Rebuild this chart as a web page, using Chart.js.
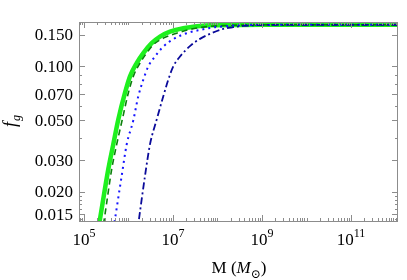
<!DOCTYPE html>
<html>
<head>
<meta charset="utf-8">
<script src="https://cdn.jsdelivr.net/npm/chart.js@4.4.1/dist/chart.umd.min.js"></script>
<style>
  html, body { margin: 0; padding: 0; background: #fff; }
  #wrap { width: 407px; height: 280px; }
</style>
</head>
<body>
<div id="wrap"><canvas id="chart" width="407" height="280"></canvas></div>
<script>
// log10 of the mass, and gas fraction
var logMassGreen  = [5.303, 5.360, 5.546, 5.658, 5.771, 5.921, 6.034, 6.184, 6.333, 6.521, 6.708, 6.933, 7.231, 7.607, 7.831, 8.5, 9.5, 10.5, 11.5, 12.1];
var fgGreen       = [0.0116, 0.01406, 0.02667, 0.03672, 0.05058, 0.07112, 0.0880, 0.1044, 0.1187, 0.1349, 0.1468, 0.1564, 0.1634, 0.1683, 0.1700, 0.1705, 0.1706, 0.1706, 0.1706, 0.1706];

var logMassDashed = [5.400, 5.456, 5.622, 5.735, 5.861, 5.996, 6.108, 6.258, 6.409, 6.557, 6.782, 7.083, 7.38, 7.72, 8.17, 8.73, 9.5, 10.5, 11.5, 12.1];
var fgDashed      = [0.0116, 0.01406, 0.02667, 0.03672, 0.05058, 0.07112, 0.0880, 0.1044, 0.1187, 0.1320, 0.1438, 0.1533, 0.1609, 0.1663, 0.1691, 0.1704, 0.1706, 0.1706, 0.1706, 0.1706];

var logMassDotted = [5.645, 5.697, 5.847, 5.960, 6.108, 6.220, 6.333, 6.445, 6.596, 6.782, 7.045, 7.308, 7.607, 7.944, 8.207, 8.506, 8.955, 9.6, 10.5, 11.5, 12.1];
var fgDotted      = [0.0116, 0.01406, 0.02449, 0.03672, 0.0500, 0.0681, 0.0843, 0.100, 0.1136, 0.1291, 0.1438, 0.1533, 0.1599, 0.1656, 0.1677, 0.1698, 0.1704, 0.1706, 0.1706, 0.1706, 0.1706];

var logMassDashDot = [6.191, 6.236, 6.371, 6.483, 6.634, 6.782, 6.894, 7.007, 7.157, 7.40, 7.607, 7.831, 8.130, 8.355, 8.580, 8.955, 9.40, 10.0, 11.0, 12.1];
var fgDashDot      = [0.0116, 0.01406, 0.02449, 0.03672, 0.05058, 0.0681, 0.0843, 0.100, 0.1136, 0.1310, 0.1425, 0.1519, 0.1620, 0.1656, 0.1683, 0.1702, 0.1705, 0.1706, 0.1706, 0.1706];

// axis ticks
var yTickValues = [0.015, 0.020, 0.030, 0.050, 0.070, 0.100, 0.150];
var yMinorValues = [0.014, 0.016, 0.017, 0.018, 0.019, 0.04, 0.06, 0.08, 0.09];
var xLabelExponents = [5, 7, 9, 11];

var serif = '"Liberation Serif", "DejaVu Serif", serif';

function toPoints(logM, fg) {
    return logM.map(function(v, i) { return { x: Math.pow(10, v), y: fg[i] }; });
}

// frame, inward ticks and all labels (Mathematica-style box)
var framePlugin = {
    id: 'frame',
    afterDraw: function(chart) {
        var ctx = chart.ctx;
        var a = chart.chartArea;
        var xs = chart.scales.x, ys = chart.scales.y;
        ctx.save();
        ctx.strokeStyle = '#8c8c8c';
        ctx.lineWidth = 1;
        ctx.strokeRect(Math.round(a.left) + 0.5, Math.round(a.top) + 0.5,
            Math.round(a.right - a.left) - 1, Math.round(a.bottom - a.top));

        function hTick(y, len) {
            y = Math.round(y) + 0.5;
            ctx.beginPath();
            ctx.moveTo(a.left, y); ctx.lineTo(a.left + len, y);
            ctx.moveTo(a.right, y); ctx.lineTo(a.right - len, y);
            ctx.stroke();
        }
        function vTick(x, len) {
            x = Math.round(x) + 0.5;
            ctx.beginPath();
            ctx.moveTo(x, a.bottom); ctx.lineTo(x, a.bottom - len);
            ctx.moveTo(x, a.top); ctx.lineTo(x, a.top + len);
            ctx.stroke();
        }

        yTickValues.forEach(function(v) { hTick(ys.getPixelForValue(v), 6); });
        yMinorValues.forEach(function(v) { hTick(ys.getPixelForValue(v), 3); });

        for (var e = 4; e <= 12; e++) {
            for (var k = 1; k <= 9; k++) {
                var m = k * Math.pow(10, e);
                if (m < xs.min || m > xs.max) continue;
                var major = (k === 1 && xLabelExponents.indexOf(e) >= 0);
                vTick(xs.getPixelForValue(m), major ? 6 : 3);
            }
        }

        // y tick labels
        ctx.fillStyle = '#000';
        ctx.font = '17px ' + serif;
        ctx.textAlign = 'right';
        ctx.textBaseline = 'middle';
        yTickValues.forEach(function(v) {
            ctx.fillText(v.toFixed(3), a.left - 6, ys.getPixelForValue(v) + 1);
        });

        // x tick labels: 10^n
        ctx.textAlign = 'left';
        ctx.textBaseline = 'alphabetic';
        xLabelExponents.forEach(function(e) {
            var px = xs.getPixelForValue(Math.pow(10, e));
            ctx.font = '17px ' + serif;
            var w1 = ctx.measureText('10').width;
            ctx.font = '12px ' + serif;
            var w2 = ctx.measureText(String(e)).width;
            var x0 = px - (w1 + w2) / 2;
            ctx.font = '17px ' + serif;
            ctx.fillText('10', x0, 245);
            ctx.font = '12px ' + serif;
            ctx.fillText(String(e), x0 + w1, 237);
        });

        // x axis title: M (M_sun)
        var parts = [
            { t: 'M (', f: '17px ' + serif, dy: 0 },
            { t: 'M', f: 'italic 17px ' + serif, dy: 0 },
            { t: '\u2299', f: '12px ' + serif, dy: 5 },
            { t: ')', f: '17px ' + serif, dy: 0 }
        ];
        var total = 0;
        parts.forEach(function(p) { ctx.font = p.f; p.w = ctx.measureText(p.t).width; total += p.w; });
        var cx = 239 - total / 2;
        parts.forEach(function(p) {
            ctx.font = p.f;
            ctx.fillText(p.t, cx, 273 + p.dy);
            cx += p.w;
        });

        // y axis title: f_g
        ctx.translate(16, 121);
        ctx.rotate(-Math.PI / 2);
        ctx.font = 'italic 18px ' + serif;
        ctx.fillText('f', -6, 0);
        ctx.font = 'italic 12px ' + serif;
        ctx.fillText('g', 0, 4);
        ctx.restore();
    }
};

var commonLine = {
    showLine: true,
    pointRadius: 0,
    fill: false,
    cubicInterpolationMode: 'monotone'
};

new Chart(document.getElementById('chart'), {
    type: 'scatter',
    data: {
        datasets: [
            Object.assign({}, commonLine, {
                label: 'solid', order: 4,
                data: toPoints(logMassGreen, fgGreen),
                borderColor: '#1ef01e', borderWidth: 4.5
            }),
            Object.assign({}, commonLine, {
                label: 'dashed', order: 3,
                data: toPoints(logMassDashed, fgDashed),
                borderColor: '#0a800a', borderWidth: 1.6, borderDash: [6, 4]
            }),
            Object.assign({}, commonLine, {
                label: 'dotted', order: 2,
                data: toPoints(logMassDotted, fgDotted),
                borderColor: '#1515ff', borderWidth: 2, borderDash: [2, 4]
            }),
            Object.assign({}, commonLine, {
                label: 'dashdot', order: 1,
                data: toPoints(logMassDashDot, fgDashDot),
                borderColor: '#0a0a9a', borderWidth: 1.8, borderDash: [7, 3, 2, 3]
            })
        ]
    },
    options: {
        responsive: false,
        animation: false,
        events: [],
        layout: { padding: { left: 79, right: 9, top: 22, bottom: 59 } },
        plugins: { legend: { display: false }, tooltip: { enabled: false } },
        scales: {
            x: {
                type: 'logarithmic', display: false,
                min: Math.pow(10, 4.888), max: Math.pow(10, 12.056)
            },
            y: {
                type: 'logarithmic', display: false,
                min: 0.01372, max: 0.177
            }
        }
    },
    plugins: [framePlugin]
});
</script>
</body>
</html>
